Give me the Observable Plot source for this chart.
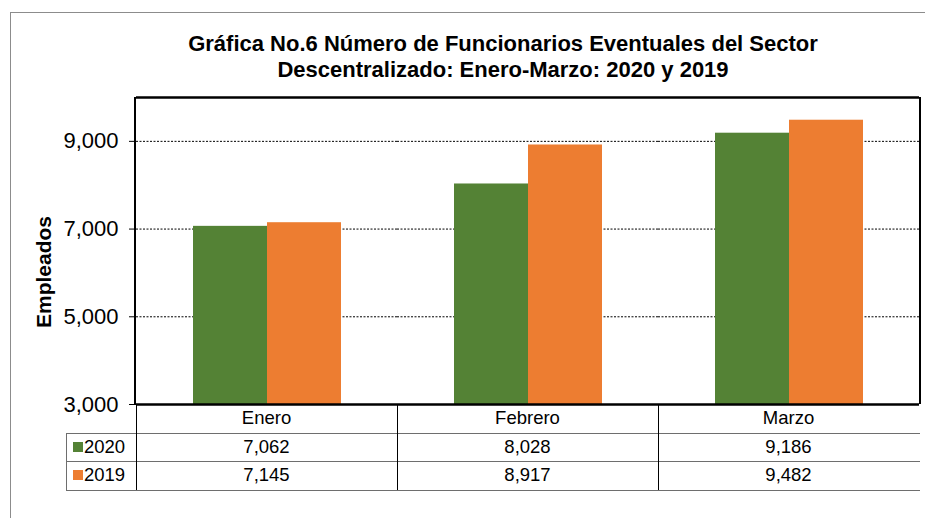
<!DOCTYPE html>
<html><head><meta charset="utf-8">
<script src="https://cdn.jsdelivr.net/npm/d3@7"></script>
<script src="https://cdn.jsdelivr.net/npm/@observablehq/plot@0.6"></script>
<style>
body{margin:0;background:#fff;font-family:"Liberation Sans",Arial,sans-serif;}
#wrap{position:relative;width:925px;height:518px;overflow:hidden;background:#fff;}
#wrap svg{position:absolute;left:0;top:0;}
.abs{position:absolute;}
.title{position:absolute;left:0;width:1006px;text-align:center;font-weight:bold;font-size:22px;line-height:26px;color:#000;white-space:nowrap;}
.cell{position:absolute;text-align:center;font-size:18.5px;color:#000;line-height:28px;}
.hl{position:absolute;height:0;border-top:1.5px solid #6e6e6e;}
.vl{position:absolute;width:0;border-left:1.5px solid #000;}
</style></head><body><div id="wrap"></div>
<script>
const months = ["Enero", "Febrero", "Marzo"];
const series = ["2020", "2019"];
const values2020 = [7062, 8028, 9186];
const values2019 = [7145, 8917, 9482];
const seriesColors = ["#548235", "#ED7D31"];
const yTicks = [3000, 5000, 7000, 9000];
const yDomain = [3000, 10000];
const titleLines = ["Gráfica No.6 Número de Funcionarios Eventuales del Sector", "Descentralizado: Enero-Marzo: 2020 y 2019"];
const yLabel = "Empleados";

const valuesBySeries = {"2020": values2020, "2019": values2019};
const data = months.flatMap((m, i) => series.map(s => ({month: m, year: s, value: valuesBySeries[s][i]})));
const fmt = d3.format(",");

const W = 925, H = 518, mT = 97, mB = 114, mL = 135, mR = 5;

const plot = Plot.plot({
  width: W, height: H, marginTop: mT, marginBottom: mB, marginLeft: mL, marginRight: mR,
  style: {fontFamily: "Liberation Sans, Arial, sans-serif", fontSize: "22px", color: "#000", background: "transparent"},
  fx: {domain: months, padding: 0, axis: null},
  x: {domain: series, paddingInner: 0, paddingOuter: 0.744, axis: null},
  y: {domain: yDomain, axis: null},
  color: {domain: series, range: seriesColors},
  marks: [
    Plot.ruleY(yTicks.filter(t => t > yDomain[0]), {stroke: "#000", strokeWidth: 1, strokeDasharray: "2,1.5"}),
    Plot.barY(data, {fx: "month", x: "year", y1: yDomain[0], y2: "value", fill: "year"}),
    Plot.ruleY([yDomain[0], yDomain[1]], {stroke: "#000", strokeWidth: 2.5}),
    Plot.axisY(yTicks, {tickSize: 7, tickPadding: 11, tickFormat: fmt, label: null, fontSize: 22, stroke: "#000", fill: "#000"})
  ]
});

const wrap = document.getElementById("wrap");
wrap.appendChild(plot);

function add(cls, css, text) {
  const d = document.createElement("div");
  d.className = cls;
  Object.assign(d.style, css);
  if (text != null) d.textContent = text;
  wrap.appendChild(d);
  return d;
}

// outer chart border
add("abs", {left: "10px", top: "12px", width: "1000px", height: "1000px", border: "1.5px solid #8c8c8c"});

// titles
add("title", {top: "31px"}, titleLines[0]);
add("title", {top: "57px"}, titleLines[1]);

// y label
add("abs", {left: "44px", top: "272px", transform: "translate(-50%,-50%) rotate(-90deg)", fontWeight: "bold", fontSize: "21px", whiteSpace: "nowrap"}, yLabel);

// plot frame left/right
const yB = H - mB;
add("vl", {left: (mL - 1) + "px", top: mT + "px", height: (yB - mT) + "px", borderLeft: "2.5px solid #000"});
add("vl", {left: (W - mR - 1) + "px", top: mT + "px", height: (yB - mT) + "px", borderLeft: "2.5px solid #000"});

// data table
const fx = plot.scale("fx");
const rowH = 28.5;
const rows = [yB, yB + rowH, yB + 2 * rowH, yB + 3 * rowH];
const legendLeft = 66;
for (let r = 1; r <= 3; r++) add("hl", {left: legendLeft + "px", top: rows[r] + "px", width: (W - mR - legendLeft) + "px"});
add("vl", {left: legendLeft + "px", top: rows[1] + "px", height: (rows[3] - rows[1]) + "px", borderLeft: "1.5px solid #6e6e6e"});
months.forEach((m, i) => {
  const x0 = fx.apply(m), bw = fx.bandwidth;
  add("vl", {left: x0 + "px", top: rows[0] + "px", height: (rows[3] - rows[0]) + "px"});
  add("cell", {left: x0 + "px", width: bw + "px", top: rows[0] + "px"}, m);
  series.forEach((s, j) => {
    add("cell", {left: x0 + "px", width: bw + "px", top: rows[j + 1] + "px"}, fmt(valuesBySeries[s][i]));
  });
});
series.forEach((s, j) => {
  add("abs", {left: "73px", top: (rows[j + 1] + 9) + "px", width: "10px", height: "10px", background: seriesColors[j]});
  add("cell", {left: "84px", top: rows[j + 1] + "px", textAlign: "left"}, s);
});
</script></body></html>
